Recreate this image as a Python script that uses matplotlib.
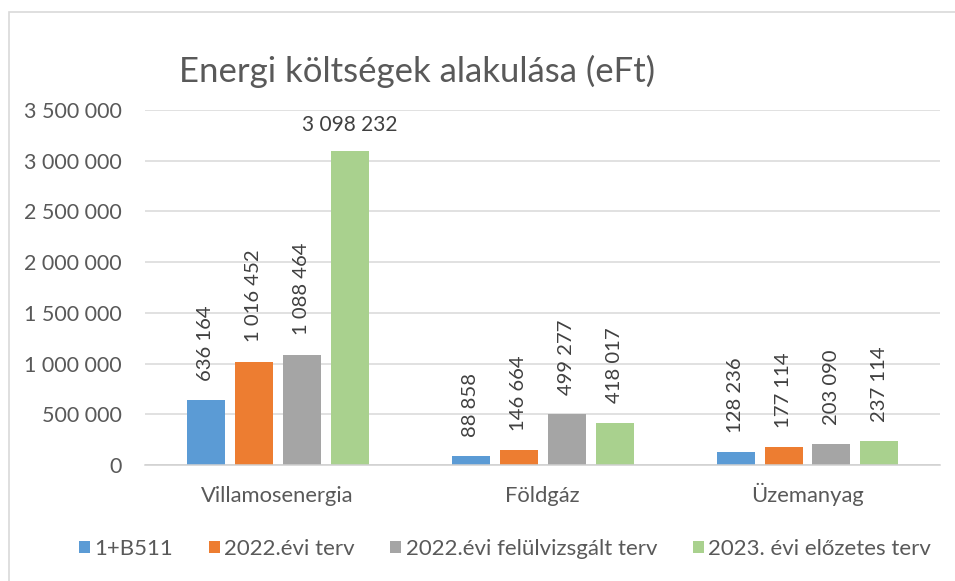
import matplotlib
matplotlib.use("Agg")
import matplotlib.pyplot as plt
from matplotlib.patches import Patch, Rectangle
import numpy as np

plt.rcParams['font.family'] = ['Lato', 'DejaVu Sans']

categories = ["Villamosenergia", "Földgáz", "Üzemanyag"]
series_names = ["1+B511", "2022.évi terv", "2022.évi felülvizsgált terv", "2023. évi előzetes terv"]
values = [
    [636164, 88858, 128236],
    [1016452, 146664, 177114],
    [1088464, 499277, 203090],
    [3098232, 418017, 237114],
]
colors = ["#5B9BD5", "#ED7D31", "#A5A5A5", "#A9D18E"]
yticks = [0, 500000, 1000000, 1500000, 2000000, 2500000, 3000000, 3500000]
title = "Energi költségek alakulása (eFt)"

def fmt(v):
    return f"{v:,}".replace(",", " ")

W, H = 955, 581
fig = plt.figure(figsize=(W / 100, H / 100), dpi=100)

# outer border of chart area
fig.patches.append(Rectangle((9 / W, -0.1), 1.2, 1 - 12 / H + 0.1,
                             transform=fig.transFigure, fill=False,
                             edgecolor="#d9d9d9", linewidth=1.2))

ax = fig.add_axes([145 / W, 1 - 465 / H, (940 - 145) / W, (465 - 110) / H])
txtc = "#595959"
lblc = "#404040"

x = np.arange(len(categories))
bw = 38 / 265
step = 48 / 265
vmax = max(max(s) for s in values)
for i, (name, vals, c) in enumerate(zip(series_names, values, colors)):
    pos = x + (i - 1.5) * step
    bars = ax.bar(pos, vals, width=bw, color=c, label=name, zorder=3)
    for b, v in zip(bars, vals):
        cx = b.get_x() + b.get_width() / 2
        if v == vmax:
            ax.annotate(fmt(v), (cx, v), xytext=(0, 11), textcoords="offset points",
                        ha="center", va="bottom", fontsize=15, color=lblc)
        else:
            ax.annotate(fmt(v), (cx, v), xytext=(0, 14), textcoords="offset points",
                        ha="center", va="bottom", rotation=90, fontsize=14.6, color=lblc)

ax.set_xlim(-0.5, 2.5)
ax.set_ylim(0, 3500000)
ax.set_yticks(yticks)
ax.set_yticklabels([fmt(v) for v in yticks], fontsize=15.5, color=txtc)
ax.set_xticks(x)
ax.set_xticklabels(categories, fontsize=15.8, color=txtc)
for lbl in ax.get_xticklabels():
    lbl.set_va("baseline")
ax.tick_params(axis="y", length=0, pad=17)
ax.tick_params(axis="x", length=0, pad=27)
ax.grid(axis="y", color="#d9d9d9", linewidth=1.1, zorder=0)
for s in ["top", "right", "left"]:
    ax.spines[s].set_visible(False)
ax.spines["bottom"].set_color("#d0d0d0")
ax.spines["bottom"].set_linewidth(1.1)
ax.spines["bottom"].set_zorder(4)

fig.text(417 / W, 1 - 71 / H, title, ha="center", va="center", fontsize=25,
         color=txtc)

handles = [Patch(facecolor=c, edgecolor="none") for c in colors]
fig.legend(handles, series_names, loc="center", bbox_to_anchor=(505 / W, 1 - 549 / H),
           ncol=4, frameon=False, fontsize=16, handlelength=0.5, handleheight=0.5,
           handletextpad=0.2, columnspacing=1.6, labelcolor=txtc)

fig.savefig("out.png", dpi=100)
